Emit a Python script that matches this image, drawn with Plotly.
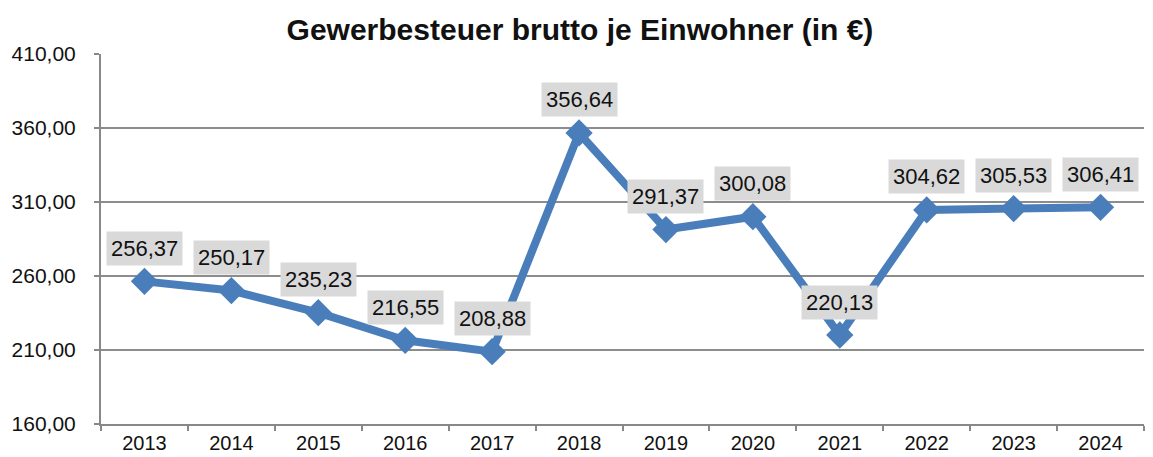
import plotly.graph_objects as go

years = ["2013", "2014", "2015", "2016", "2017", "2018", "2019", "2020", "2021", "2022", "2023", "2024"]
values = [256.37, 250.17, 235.23, 216.55, 208.88, 356.64, 291.37, 300.08, 220.13, 304.62, 305.53, 306.41]
y_ticks = [160, 210, 260, 310, 360, 410]
title = "Gewerbesteuer brutto je Einwohner (in €)"

line_color = "#4a7ebb"
font_family = "Liberation Sans, Arial, sans-serif"

fig = go.Figure()
fig.add_trace(go.Scatter(
    x=years, y=values, mode="lines+markers",
    line=dict(color=line_color, width=8),
    marker=dict(symbol="diamond", size=21, color=line_color),
    hoverinfo="skip", showlegend=False,
))

annotations = []
for i, v in enumerate(values):
    annotations.append(dict(
        x=i, y=v, xref="x", yref="y",
        text=f"{v:.2f}".replace(".", ","),
        showarrow=False, yshift=33,
        bgcolor="#d9d9d9", borderpad=4,
        font=dict(family=font_family, size=22, color="#111111"),
    ))

fig.update_layout(
    width=1153, height=457,
    margin=dict(l=101, r=9, t=54, b=33),
    paper_bgcolor="white", plot_bgcolor="white",
    separators=",.",
    annotations=annotations,
    title=dict(text=f"<b>{title}</b>", x=0.503, xanchor="center", y=0.935, yanchor="middle",
               font=dict(family=font_family, size=30, color="#111111")),
    font=dict(family=font_family, size=20, color="#111111"),
)
fig.update_xaxes(
    type="category", range=[-0.5, 11.5], automargin=False,
    showline=True, linecolor="#888888", linewidth=2,
    ticks="outside", tickson="boundaries", ticklen=5, tickcolor="#888888", tickwidth=2,
    showgrid=False, tickfont=dict(size=20, family=font_family, color="#111111"),
)
fig.update_yaxes(
    range=[160, 410], tickvals=y_ticks, tickformat=".2f", automargin=False,
    showline=True, linecolor="#888888", linewidth=2,
    ticks="outside", ticklen=5, tickcolor="#888888", tickwidth=2,
    ticklabelstandoff=14,
    showgrid=True, gridcolor="#8c8c8c", gridwidth=1.5,
    zeroline=False, tickfont=dict(size=21, family=font_family, color="#111111"),
)

fig.write_html("out.html", config={"displayModeBar": False},
               post_script="document.body.style.margin='0';")
